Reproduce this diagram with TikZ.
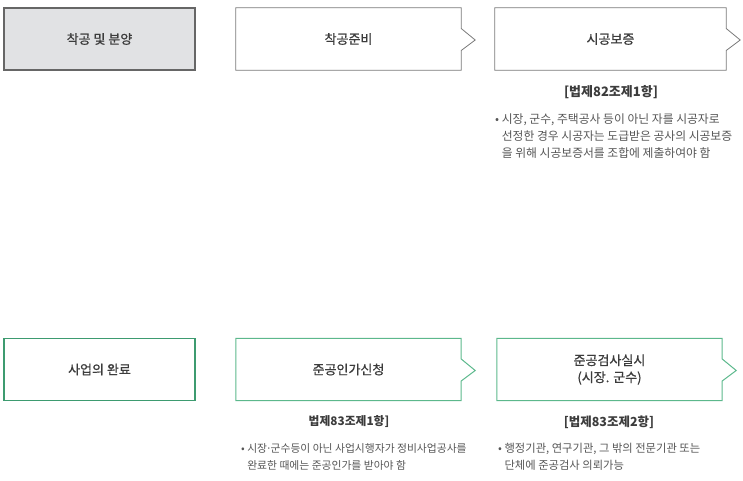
\documentclass[tikz,border=0pt]{standalone}
\usepackage{fontspec}
\setmainfont{Noto Sans CJK KR}
\newfontfamily\stagefont[FakeBold=0.9]{Noto Sans CJK KR}
\usepackage{tikz}

\definecolor{boxgray}{HTML}{E1E2E4}
\definecolor{linegray}{HTML}{7A7A7A}
\definecolor{darkline}{HTML}{666666}
\definecolor{darkgreen}{HTML}{3D9B70}
\definecolor{lightgreen}{HTML}{5CB88C}
\definecolor{titletext}{HTML}{3C3C3C}
\definecolor{notetext}{HTML}{555555}

% box with a notch on its right side
\newcommand{\chevbox}[2]{
  \draw[#2] (#1.north west) -- (#1.north east) -- ([yshift=10.5pt]#1.east)
    -- ([xshift=14pt,yshift=-1pt]#1.east) -- ([yshift=-11.5pt]#1.east)
    -- (#1.south east) -- (#1.south west) -- cycle;
}

\begin{document}
\begin{tikzpicture}[x=1pt,y=-1pt]
        \tikzstyle{stage} = [rectangle,inner sep=0pt,minimum height=62pt,text=titletext,
          font=\stagefont\fontsize{13}{17}\selectfont,align=center]
        \tikzstyle{law} = [inner sep=0pt,text=titletext,font=\fontsize{12.5}{15}\selectfont\bfseries]
        \tikzstyle{note} = [inner sep=0pt,anchor=north west,align=left,text=notetext]
        \useasboundingbox (0,0) rectangle (743,480);

        % first row
        \node[stage,minimum width=191pt,fill=boxgray,draw=darkline,line width=1.5pt] (start) at (99.5,39) {착공 및 분양};
        \node[stage,minimum width=225pt] (prep) at (348.5,39) {착공준비};
        \chevbox{prep}{linegray,line width=0.8pt}
        \node[stage,minimum width=231pt] (bond) at (610.5,39) {시공보증};
        \chevbox{bond}{linegray,line width=0.8pt}
        \node[law,font=\fontsize{13}{15}\selectfont\bfseries] (bondlaw) at (611,92) {[법제82조제1항]};
        \node[note,font=\fontsize{11.8}{17}\selectfont] (bondnote) at (495,113.5) {• 시장, 군수, 주택공사 등이 아닌 자를 시공자로\\
          \phantom{• }선정한 경우 시공자는 도급받은 공사의 시공보증\\
          \phantom{• }을 위해 시공보증서를 조합에 제출하여야 함};

        % second row
        \node[stage,minimum width=191pt,draw=darkgreen,line width=1.6pt] (finish) at (99.5,369.5) {사업의 완료};
        \node[stage,minimum width=225pt] (apply) at (348.5,369.5) {준공인가신청};
        \chevbox{apply}{lightgreen,line width=1pt}
        \node[stage,minimum width=225pt] (check) at (609.5,369.5) {준공검사실시\\(시장. 군수)};
        \chevbox{check}{lightgreen,line width=1pt}
        \node[law,font=\fontsize{11.8}{15}\selectfont\bfseries] (applylaw) at (349,422) {법제83조제1항]};
        \node[law] (checklaw) at (609,422) {[법제83조제2항]};
        \node[note,font=\fontsize{10.8}{17}\selectfont] (applynote) at (241,443) {• 시장\kern-0.12em·\kern-0.12em군수등이 아닌 사업시행자가 정비사업공사를\\
          \phantom{• }완료한 때에는 준공인가를 받아야 함};
        \node[note,font=\fontsize{11.3}{17}\selectfont] (checknote) at (498,443) {• 행정기관, 연구기관, 그 밖의 전문기관 또는\\
          \phantom{• }단체에 준공검사 의뢰가능};
      \end{tikzpicture}
\end{document}
